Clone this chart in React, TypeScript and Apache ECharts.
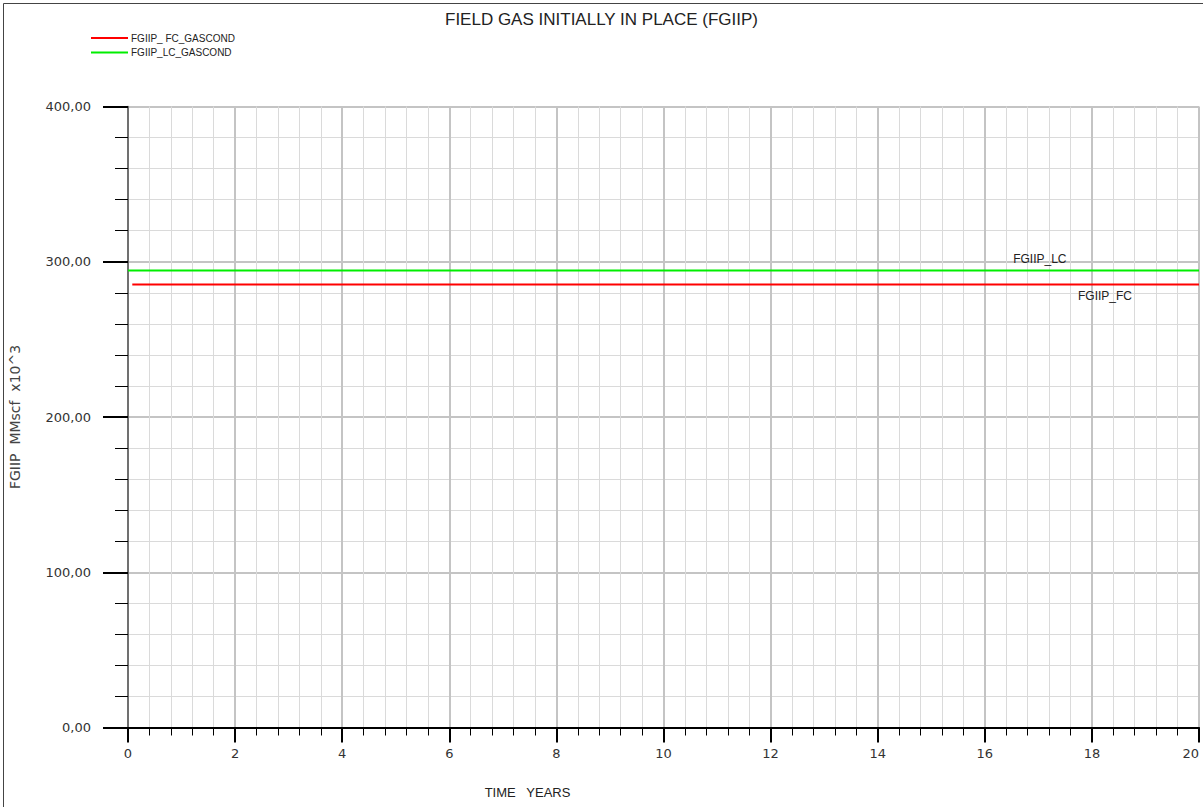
import React, { useEffect, useRef } from "react";
import * as echarts from "echarts";

const titleText = "FIELD GAS INITIALLY IN PLACE (FGIIP)";
const seriesNames = ["FGIIP_ FC_GASCOND", "FGIIP_LC_GASCOND"];
const lineLabels = ["FGIIP_FC", "FGIIP_LC"];
const fcYears = [0.08, 20];
const fcValues = [285.3, 285.3];
const lcYears = [0, 20];
const lcValues = [294.3, 294.3];
const fcLabelAt = [17.74, 285.3];
const lcLabelAt = [16.53, 294.3];
const yAxisName = "FGIIP  MMscf  x10^3";
const xAxisName = "TIME   YEARS";

export default function App() {
  const ref = useRef<HTMLDivElement>(null);
  useEffect(() => {
    if (!ref.current) return;
    const chart = echarts.init(ref.current, null, { renderer: "svg" });
    const fcData = fcYears.map((x, i) => [x, fcValues[i]]);
    const lcData = lcYears.map((x, i) => [x, lcValues[i]]);
    chart.setOption({
      animation: false,
      backgroundColor: "#ffffff",
      title: {
        text: titleText,
        left: "center",
        top: 6,
        textStyle: { fontFamily: "Liberation Sans", fontSize: 17, fontWeight: "normal", color: "#222" },
      },
      legend: {
        orient: "vertical",
        left: 86,
        top: 27,
        itemWidth: 37,
        itemHeight: 2,
        itemGap: 2.5,
        icon: "rect",
        data: seriesNames,
        textStyle: { fontFamily: "Liberation Sans", fontSize: 10, color: "#222", padding: [0, 0, 0, -2], lineHeight: 12 },
      },
      grid: { left: 126, top: 106.5, right: 4, bottom: 79.5, containLabel: false },
      xAxis: {
        type: "value",
        min: 0,
        max: 20,
        interval: 2,
        name: xAxisName,
        nameLocation: "middle",
        nameGap: 58,
        nameTextStyle: { fontFamily: "Liberation Sans", fontSize: 13, color: "#222", padding: [0, 272, 0, 0] },
        axisLine: { show: true, lineStyle: { color: "#000", width: 2 } },
        axisTick: { show: true, length: 15, lineStyle: { color: "#000", width: 2 } },
        minorTick: { show: true, splitNumber: 5, length: 8, lineStyle: { color: "#000", width: 1 } },
        axisLabel: { margin: 19, fontFamily: "DejaVu Sans", fontSize: 13, color: "#333", alignMaxLabel: "right" },
        splitLine: { show: true, lineStyle: { color: "#c4c4c4", width: 2 } },
        minorSplitLine: { show: true, lineStyle: { color: "#dadada", width: 1 } },
      },
      yAxis: {
        type: "value",
        min: 0,
        max: 400,
        interval: 100,
        name: yAxisName,
        nameLocation: "middle",
        nameGap: 106,
        nameRotate: 90,
        nameTextStyle: { fontFamily: "DejaVu Sans", fontSize: 14, color: "#444" },
        axisLine: { show: true, lineStyle: { color: "#555", width: 1.5 } },
        axisTick: { show: true, length: 25, lineStyle: { color: "#000", width: 2 } },
        minorTick: { show: true, splitNumber: 5, length: 13, lineStyle: { color: "#000", width: 1 } },
        axisLabel: {
          margin: 37,
          fontFamily: "DejaVu Sans",
          fontSize: 13,
          color: "#333",
          formatter: (v: number) => v.toFixed(2).replace(".", ","),
        },
        splitLine: { show: true, lineStyle: { color: "#c4c4c4", width: 2 } },
        minorSplitLine: { show: true, lineStyle: { color: "#dadada", width: 1 } },
      },
      series: [
        {
          name: seriesNames[0],
          type: "line",
          data: fcData,
          showSymbol: false,
          symbol: "none",
          lineStyle: { color: "#ff0000", width: 2 },
          itemStyle: { color: "#ff0000" },
          z: 3,
          markPoint: {
            symbol: "circle",
            symbolSize: 0,
            data: [{ coord: fcLabelAt, value: lineLabels[0] }],
            label: {
              show: true,
              position: "right",
              distance: 0,
              offset: [0, 11],
              formatter: lineLabels[0],
              fontFamily: "Liberation Sans",
              fontSize: 12,
              color: "#222",
            },
          },
        },
        {
          name: seriesNames[1],
          type: "line",
          data: lcData,
          showSymbol: false,
          symbol: "none",
          lineStyle: { color: "#00ee00", width: 2 },
          itemStyle: { color: "#00ee00" },
          z: 3,
          markPoint: {
            symbol: "circle",
            symbolSize: 0,
            data: [{ coord: lcLabelAt, value: lineLabels[1] }],
            label: {
              show: true,
              position: "right",
              distance: 0,
              offset: [0, -12],
              formatter: lineLabels[1],
              fontFamily: "Liberation Sans",
              fontSize: 12,
              color: "#222",
            },
          },
        },
      ],
      graphic: [
        { type: "line", shape: { x1: 3.5, y1: 3.5, x2: 3.5, y2: 807 }, style: { stroke: "#444", lineWidth: 1 } },
        { type: "line", shape: { x1: 3.5, y1: 3.5, x2: 1203, y2: 3.5 }, style: { stroke: "#444", lineWidth: 1 } },
      ],
    });
    return () => chart.dispose();
  }, []);
  return (
    <div
      ref={ref}
      style={{ position: "absolute", left: 0, top: 0, width: 1203, height: 807 }}
    />
  );
}
